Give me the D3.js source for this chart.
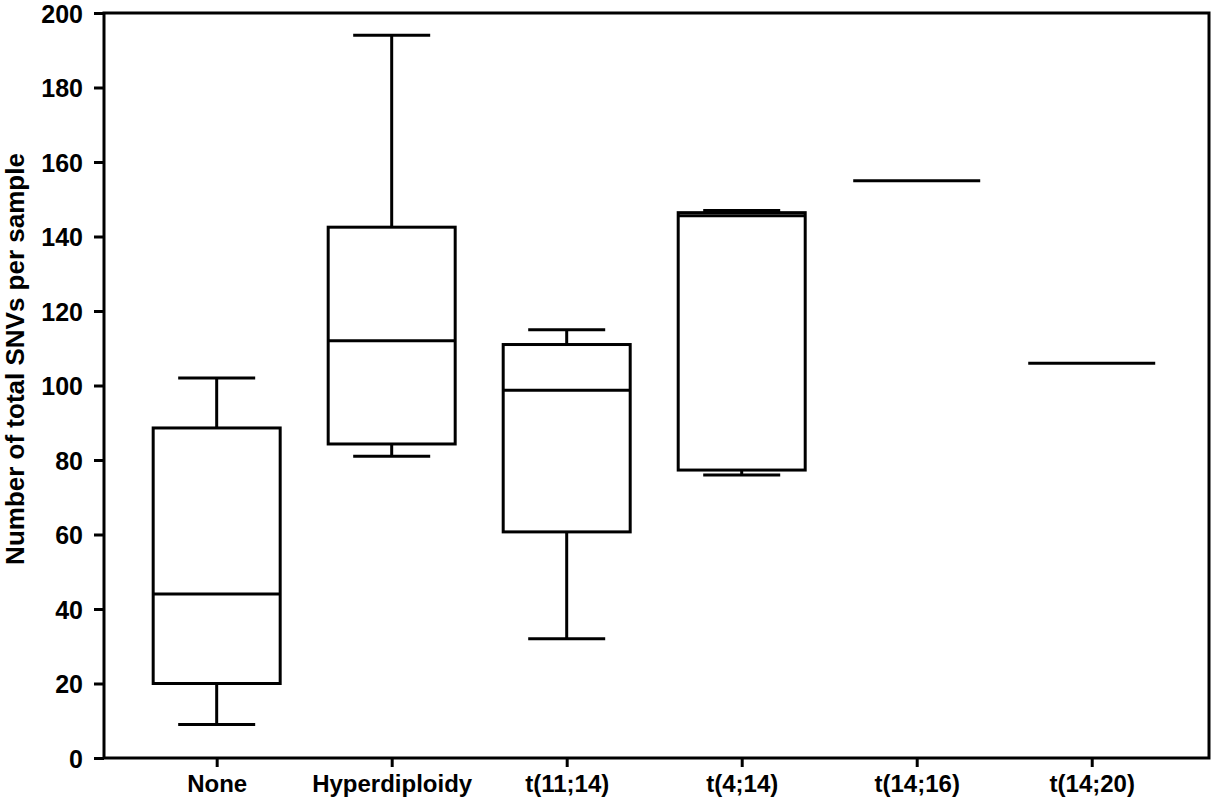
<!DOCTYPE html>
<html>
<head>
<meta charset="utf-8">
<script src="https://cdn.jsdelivr.net/npm/d3@7"></script>
<style>
  body { margin: 0; background: #fff; }
  svg text { font-family: "Liberation Sans", Arial, sans-serif; font-weight: bold; fill: #000; }
</style>
</head>
<body>
<div id="graph"></div>
<script>
// groups and their box stats
const categories = ["None", "Hyperdiploidy", "t(11;14)", "t(4;14)", "t(14;16)", "t(14;20)"];
const mins    = [9,   81,   32,   76,  155, 106];
const q1s     = [20,  84.3, 60.7, 77.3, 155, 106];
const medians = [44,  112,  98.7, 145.6, 155, 106];
const q3s     = [88.6, 142.5, 111, 146.4, 155, 106];
const maxs    = [102, 194,  115,  147, 155, 106];
const yTicks  = [0, 20, 40, 60, 80, 100, 120, 140, 160, 180, 200];

const W = 1213, H = 803;
const margin = { top: 13, right: 4, bottom: 45, left: 104 };
const width = W - margin.left - margin.right;
const height = H - margin.top - margin.bottom;

const svg = d3.select("#graph").append("svg")
  .attr("width", W).attr("height", H);

const g = svg.append("g").attr("transform", `translate(${margin.left},${margin.top})`);

const x = d3.scalePoint().domain(categories).range([0, width]).padding(0.657).align(0.49);
const y = d3.scaleLinear().domain([0, 200]).range([height, 0]);

const boxW = 127, capW = 77;
const stroke = 3;

const data = categories.map((c, i) => ({
  cat: c, min: mins[i], q1: q1s[i], med: medians[i], q3: q3s[i], max: maxs[i]
}));

const boxes = g.selectAll(".box").data(data).enter().append("g").attr("class", "box");

// whiskers
boxes.filter(d => d.max > d.q3).append("line")
  .attr("x1", d => x(d.cat)).attr("x2", d => x(d.cat))
  .attr("y1", d => y(d.q3)).attr("y2", d => y(d.max))
  .attr("stroke", "#000").attr("stroke-width", stroke);
boxes.filter(d => d.min < d.q1).append("line")
  .attr("x1", d => x(d.cat)).attr("x2", d => x(d.cat))
  .attr("y1", d => y(d.q1)).attr("y2", d => y(d.min))
  .attr("stroke", "#000").attr("stroke-width", stroke);
// caps
boxes.filter(d => d.max > d.med).append("line")
  .attr("x1", d => x(d.cat) - capW / 2).attr("x2", d => x(d.cat) + capW / 2)
  .attr("y1", d => y(d.max)).attr("y2", d => y(d.max))
  .attr("stroke", "#000").attr("stroke-width", stroke);
boxes.filter(d => d.min < d.med).append("line")
  .attr("x1", d => x(d.cat) - capW / 2).attr("x2", d => x(d.cat) + capW / 2)
  .attr("y1", d => y(d.min)).attr("y2", d => y(d.min))
  .attr("stroke", "#000").attr("stroke-width", stroke);
// box
boxes.filter(d => d.q3 > d.q1).append("rect")
  .attr("x", d => x(d.cat) - boxW / 2)
  .attr("width", boxW)
  .attr("y", d => y(d.q3))
  .attr("height", d => y(d.q1) - y(d.q3))
  .attr("fill", "none").attr("stroke", "#000").attr("stroke-width", stroke);
// median
boxes.append("line")
  .attr("x1", d => x(d.cat) - boxW / 2).attr("x2", d => x(d.cat) + boxW / 2)
  .attr("y1", d => y(d.med)).attr("y2", d => y(d.med))
  .attr("stroke", "#000").attr("stroke-width", stroke);

// axes
const yAxis = g.append("g")
  .call(d3.axisLeft(y).tickValues(yTicks).tickSize(10).tickPadding(11));
const xAxis = g.append("g")
  .attr("transform", `translate(0,${height})`)
  .call(d3.axisBottom(x).tickSize(9).tickPadding(8));

[yAxis, xAxis].forEach(a => {
  a.select(".domain").remove();
  a.selectAll(".tick line").attr("stroke", "#000").attr("stroke-width", stroke);
  a.selectAll(".tick text").attr("fill", "#000");
});
yAxis.selectAll(".tick text").style("font-size", "25px").attr("dy", "0.36em");
xAxis.selectAll(".tick text").style("font-size", "24px");

// frame
g.append("rect")
  .attr("x", 0).attr("y", 0).attr("width", width).attr("height", height)
  .attr("fill", "none").attr("stroke", "#000").attr("stroke-width", stroke);

// y label
svg.append("text")
  .attr("transform", `translate(24,359) rotate(-90)`)
  .attr("text-anchor", "middle")
  .style("font-size", "26px")
  .text("Number of total SNVs per sample");
</script>
</body>
</html>
